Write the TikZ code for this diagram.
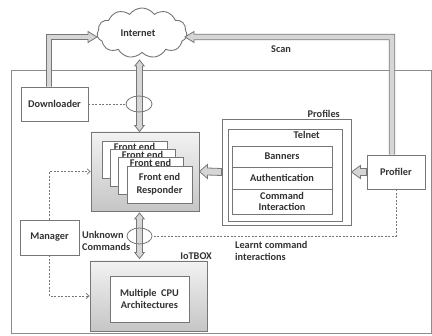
\documentclass[tikz,border=0pt]{standalone}
\usepackage{fontspec}
\setmainfont{Carlito}
\usetikzlibrary{calc,shapes.geometric,shapes.symbols,arrows.meta}
\definecolor{ln}{RGB}{118,118,118}
\definecolor{frm}{RGB}{140,140,140}
\definecolor{tx}{RGB}{50,50,50}
\definecolor{af}{RGB}{214,214,214}
\begin{document}
\begin{tikzpicture}[x=1pt,y=-1pt,
  every node/.style={font=\fontsize{10.3}{12.5}\selectfont\bfseries, text=tx},
  plainbox/.style={draw=ln, line width=0.9pt, fill=white, inner sep=0pt, align=center},
  greybox/.style={draw=ln, line width=0.9pt, top color=gray!10, bottom color=gray!45, inner sep=0pt},
  card/.style={plainbox, minimum width=65pt, minimum height=37pt},
  blk/.style={draw=ln, line width=0.8pt, fill=af, line join=miter},
  dsh/.style={draw=ln, line width=0.7pt, dash pattern=on 2pt off 1.5pt},
  ell/.style={draw=ln, line width=0.8pt, ellipse, inner sep=0pt},
  lbl/.style={inner sep=0pt},
]
\useasboundingbox (0,0) rectangle (432,336);

% outer frame of the system
\draw[frm, line width=0.9pt] (11,70) rectangle (431,333);

% cloud
\node[cloud, cloud puffs=11, cloud puff arc=110, aspect=2.1, draw=ln, line width=0.9pt,
      fill=white, minimum width=90pt, minimum height=50pt, inner sep=0pt] (net) at (142,33) {};
\node[lbl] (nett) at (138,33) {Internet};

% simple boxes
\node[plainbox, minimum width=67pt, minimum height=34pt] (dl) at (54.5,104) {Downloader};
\node[plainbox, minimum width=59pt, minimum height=35pt] (mg) at (49.5,237.5) {Manager};
\node[plainbox, minimum width=58pt, minimum height=34pt] (pf) at (396,172) {Profiler};

% profiles
\node[plainbox, minimum width=129pt, minimum height=106pt] (prof) at (286.5,172) {};
\node[lbl, anchor=base east] (proft) at (340,118) {Profiles};
\node[plainbox, minimum width=114pt, minimum height=92pt] (tel) at (285,175) {};
\node[lbl, anchor=base east] (telt) at (320,139) {Telnet};
\node[plainbox, minimum width=100pt, minimum height=21pt] (ban) at (282,156.5) {Banners};
\node[plainbox, minimum width=100pt, minimum height=22pt] (auth) at (282,178) {Authentication};
\node[plainbox, minimum width=100pt, minimum height=25pt] (cmd) at (282,201.5) {Command\\[-1.5pt]Interaction};

% front end responders
\node[greybox, minimum width=108pt, minimum height=79pt] (fe) at (145,171.5) {};
\foreach \i/\cx/\cy in {1/134.5/159.5, 2/142.5/167.5, 3/150.5/175.5}{
  \node[card] (c\i) at (\cx,\cy) {};
  \node[lbl, anchor=base] (c\i t) at ($(c\i.north)+(0,10)$) {Front end};
}
\node[card] (c4) at (159.5,184.5) {Front end\\[0.5pt]Responder};

% IoTBOX
\node[greybox, minimum width=117pt, minimum height=70pt] (iot) at (148.5,296) {};
\node[lbl, anchor=base east] (iott) at (212,259.5) {IoTBOX};
\node[plainbox, minimum width=79pt, minimum height=46pt] (cpu) at (149.5,299) {Multiple\ \ CPU\\[-1pt]Architectures};

% bent block arrow: downloader to internet
\coordinate (dlT) at ($(dl.north)+(-5.5,0)$);
\coordinate (dlK) at (dlT |- 0,37);
\coordinate (dlH) at (97,37);
\draw[blk] ($(dlT)+(-2.5,0)$) -- ($(dlK)+(-2.5,-2.5)$) -- ($(dlH)+(-9,-2.5)$)
  -- ($(dlH)+(-9,-5.5)$) -- (dlH) -- ($(dlH)+(-9,5.5)$) -- ($(dlH)+(-9,2.5)$)
  -- ($(dlK)+(2.5,2.5)$) -- ($(dlT)+(2.5,0)$);

% bent block arrow: profiler scan to internet
\coordinate (pfT) at ($(pf.north)+(-4,0)$);
\coordinate (pfK) at (pfT |- 0,37);
\coordinate (scH) at (185,37);
\draw[blk] ($(pfT)+(2.7,0)$) -- ($(pfK)+(2.7,-2.7)$) -- ($(scH)+(9,-2.7)$)
  -- ($(scH)+(9,-5.5)$) -- (scH) -- ($(scH)+(9,5.5)$) -- ($(scH)+(9,2.7)$)
  -- ($(pfK)+(-2.7,2.7)$) -- ($(pfT)+(-2.7,0)$);
\node[lbl] (scan) at (281,49) {Scan};

% vertical two-headed block arrows
\coordinate (vA) at (139.5,60);
\coordinate (vB) at (fe.north -| vA);
\draw[blk] (vA) -- ($(vA)+(4.7,6)$) -- ($(vA)+(3,6)$) -- ($(vB)+(3,-6)$) -- ($(vB)+(4.7,-6)$)
  -- (vB) -- ($(vB)+(-4.7,-6)$) -- ($(vB)+(-3,-6)$) -- ($(vA)+(-3,6)$) -- ($(vA)+(-4.7,6)$) -- cycle;
\coordinate (wA) at ($(fe.south -| vA)+(0,1.5)$);
\coordinate (wB) at ($(iot.north -| vA)+(0,-2)$);
\draw[blk] (wA) -- ($(wA)+(4.7,6)$) -- ($(wA)+(3,6)$) -- ($(wB)+(3,-6)$) -- ($(wB)+(4.7,-6)$)
  -- (wB) -- ($(wB)+(-4.7,-6)$) -- ($(wB)+(-3,-6)$) -- ($(wA)+(-3,6)$) -- ($(wA)+(-4.7,6)$) -- cycle;

% horizontal block arrows pointing left
\draw[blk] (fe.east) -- ($(fe.east)+(8,-7)$) -- ($(fe.east)+(8,-3.5)$) -- ($(prof.west)+(0,-3.5)$)
  -- ($(prof.west)+(0,3.5)$) -- ($(fe.east)+(8,3.5)$) -- ($(fe.east)+(8,7)$) -- cycle;
\draw[blk] (prof.east) -- ($(prof.east)+(9,-6.5)$) -- ($(prof.east)+(9,-3.5)$) -- ($(pf.west)+(0,-3.5)$)
  -- ($(pf.west)+(0,3.5)$) -- ($(prof.east)+(9,3.5)$) -- ($(prof.east)+(9,6.5)$) -- cycle;

% taps on the links
\node[ell, minimum width=26pt, minimum height=16pt] (e1) at (139,104) {};
\node[ell, minimum width=25pt, minimum height=16pt] (e2) at (139.5,236) {};

% dashed connectors
\draw[dsh] (dl.east) -- (e1.west);
\draw[dsh] (pf.south) |- (e2.east);
\draw[dsh, -{Straight Barb[length=3pt,width=5.5pt]}] (mg.north) |- (fe.west);
\draw[dsh, -{Straight Barb[length=3pt,width=5.5pt]}] (mg.south) |- (iot.west);

% labels
\node[lbl, anchor=west, align=left] (unk) at (82,241) {Unknown\\[-0.5pt]Commands};
\node[lbl, anchor=west, align=left] (learn) at (235,251) {Learnt command\\[-0.5pt]interactions};
\end{tikzpicture}
\end{document}
